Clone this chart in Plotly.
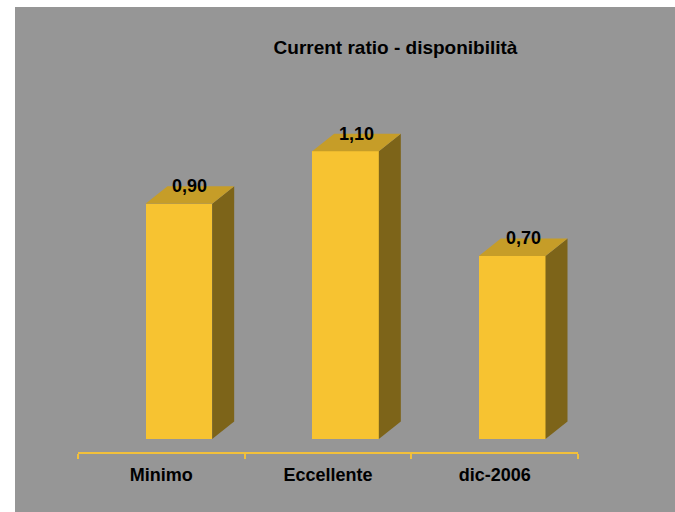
import plotly.graph_objects as go

categories = ["Minimo", "Eccellente", "dic-2006"]
values = [0.90, 1.10, 0.70]
title_text = "Current ratio - disponibilità"

FRONT = "#F7C331"
TOP = "#C69D28"
SIDE = "#7D6419"
AXIS = "#F2C03A"
GRAY = "#969696"
FONT = "Liberation Sans"

bar_offset = -0.095
bar_width = 0.40
dx = 0.132   # depth (x data units)
dy = 0.067   # depth (y data units)

xs = list(range(len(categories)))
fig = go.Figure()

for i, v in zip(xs, values):
    x0 = i + bar_offset
    x1 = x0 + bar_width
    # side face
    fig.add_trace(go.Scatter(
        x=[x1, x1 + dx, x1 + dx, x1, x1], y=[0, dy, v + dy, v, 0],
        fill="toself", fillcolor=SIDE, mode="lines", line=dict(width=0, color=SIDE),
        hoverinfo="skip", showlegend=False))
    # top face
    fig.add_trace(go.Scatter(
        x=[x0, x0 + dx, x1 + dx, x1, x0], y=[v, v + dy, v + dy, v, v],
        fill="toself", fillcolor=TOP, mode="lines", line=dict(width=0, color=TOP),
        hoverinfo="skip", showlegend=False))

fig.add_trace(go.Bar(
    x=xs, y=values, width=bar_width, offset=bar_offset,
    marker=dict(color=FRONT, line=dict(width=0)), showlegend=False))

for i, v in zip(xs, values):
    fig.add_annotation(
        x=i + bar_offset + bar_width / 2 + dx / 2, y=v + dy,
        text=f"{v:.2f}".replace(".", ","), showarrow=False,
        xanchor="center", yanchor="middle",
        font=dict(family=FONT, size=18, color="black", weight="bold"))

W, H = 675, 512
L, R, T, B = 78, 97, 98, 60
plot_h = H - T - B

fig.add_shape(type="rect", xref="paper", yref="paper",
              x0=(15 - L) / 500, x1=(W + 5 - L) / 500,
              y0=-0.3, y1=(T + plot_h - 7) / plot_h,
              fillcolor=GRAY, line=dict(width=0), layer="below")

fig.update_layout(
    width=W, height=H,
    margin=dict(l=L, r=R, t=T, b=B),
    paper_bgcolor="white", plot_bgcolor="rgba(0,0,0,0)",
    bargap=0,
    title=dict(text=title_text, x=(395.5 - 78) / 500, xref="paper", xanchor="center",
               y=1 - 47 / H, yref="container", yanchor="middle",
               font=dict(family=FONT, size=19, color="black", weight="bold")),
    xaxis=dict(range=[-0.5, 2.5], tickmode="array", tickvals=xs, ticktext=categories,
               ticks="", showgrid=False, zeroline=False,
               showline=True, linecolor=AXIS, linewidth=1.5,
               tickfont=dict(family=FONT, size=18, color="black", weight="bold"),
               ticklabelstandoff=6,
               minor=dict(tickmode="array", tickvals=[-0.5, 0.5, 1.5, 2.5], ticks="outside",
                          ticklen=5, tickcolor=AXIS, tickwidth=1.5, showgrid=False)),
    yaxis=dict(range=[-0.0497, 1.304], visible=False, showgrid=False, zeroline=False),
)

fig.write_html("out.html", config={"displayModeBar": False},
               post_script="document.body.style.margin='0';document.body.style.overflow='hidden';")
